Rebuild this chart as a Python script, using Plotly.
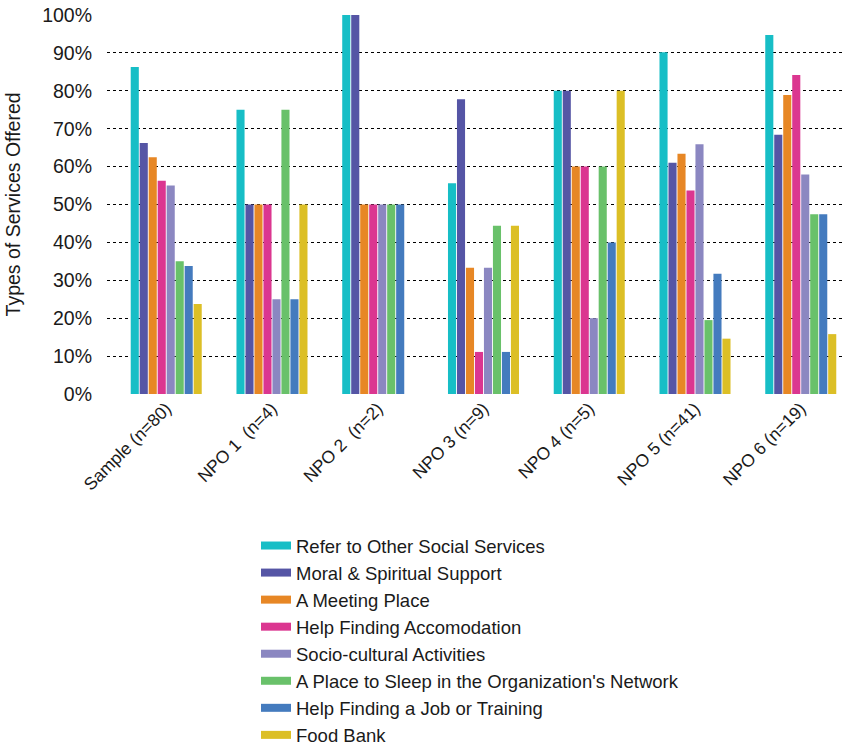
import plotly.graph_objects as go

# Groups along the x axis
groups = [
    "Sample (n=80)",
    "NPO 1\u00a0 (n=4)",
    "NPO 2\u00a0 (n=2)",
    "NPO 3 (n=9)",
    "NPO 4 (n=5)",
    "NPO 5 (n=41)",
    "NPO 6 (n=19)",
]

# Share of organisations offering each service (%)
refer_other = [86.25, 75, 100, 55.6, 80, 90.2, 94.7]
moral_spiritual = [66.25, 50, 100, 77.8, 80, 61.0, 68.4]
meeting_place = [62.5, 50, 50, 33.3, 60, 63.4, 78.9]
accommodation = [56.25, 50, 50, 11.1, 60, 53.7, 84.2]
socio_cultural = [55.0, 25, 50, 33.3, 20, 65.9, 57.9]
place_to_sleep = [35.0, 75, 50, 44.4, 60, 19.5, 47.4]
job_training = [33.75, 25, 50, 11.1, 40, 31.7, 47.4]
food_bank = [23.75, 50, 0, 44.4, 80, 14.6, 15.8]

series_names = [
    "Refer to Other Social Services",
    "Moral & Spiritual Support",
    "A Meeting Place",
    "Help Finding Accomodation",
    "Socio-cultural Activities",
    "A Place to Sleep in the Organization's Network",
    "Help Finding a Job or Training",
    "Food Bank",
]
series_values = [refer_other, moral_spiritual, meeting_place, accommodation,
                 socio_cultural, place_to_sleep, job_training, food_bank]
colors = ["#17BEC6", "#5555A5", "#E78725", "#DB3690",
          "#8B87C1", "#69C16A", "#447BBE", "#DCBF26"]

y_ticks = list(range(0, 101, 10))

fig = go.Figure()
x_idx = list(range(len(groups)))
for name, vals, col in zip(series_names, series_values, colors):
    fig.add_trace(go.Bar(x=x_idx, y=vals, name=name, marker_color=col,
                         marker_line_width=0, showlegend=False))
# Legend entries drawn as wide swatches
for name, col in zip(series_names, colors):
    fig.add_trace(go.Scatter(x=[None], y=[None], mode="lines", name=name,
                             line=dict(color=col, width=8), showlegend=True))

fig.update_layout(
    width=842, height=749,
    margin=dict(l=107, r=0, t=15, b=355, autoexpand=False),
    paper_bgcolor="white", plot_bgcolor="white",
    font=dict(family="Liberation Sans, Arial, sans-serif", color="#1a1a1a", size=18),
    barmode="group", bargap=0.32, bargroupgap=0.1,
    showlegend=True,
    legend=dict(
        xref="container", yref="container",
        x=256 / 842, y=1 - 527 / 749, xanchor="left", yanchor="top",
        font=dict(size=18.5), itemwidth=30,
        bgcolor="rgba(0,0,0,0)",
    ),
    annotations=[dict(
        text="Types of Services Offered", textangle=-90,
        xref="paper", yref="paper", x=-0.128, y=0.5,
        xanchor="center", yanchor="middle", showarrow=False,
        font=dict(size=19.5),
    )],
)
fig.update_xaxes(
    tickmode="array", tickvals=x_idx, ticktext=groups,
    range=[-0.56, 6.39], tickangle=-45, showgrid=False, showline=False,
    ticks="", zeroline=False, tickfont=dict(size=17.5),
)
fig.update_yaxes(
    range=[0, 100], tickvals=y_ticks, ticktext=[f"{v}%" for v in y_ticks],
    showgrid=True, gridcolor="black", griddash="dot", gridwidth=1,
    zeroline=False, showline=False, ticks="", ticklabelstandoff=14,
    tickfont=dict(size=19.5),
)

fig.write_html("out.html")
